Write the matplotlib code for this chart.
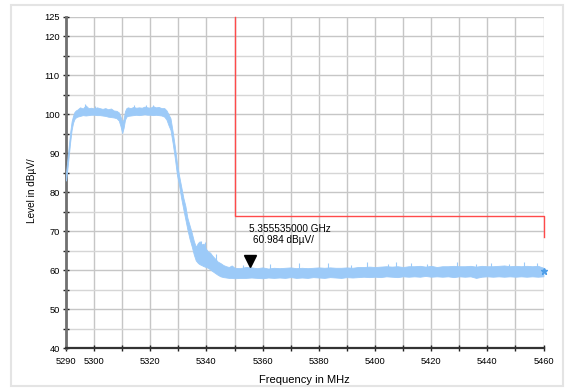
import numpy as np
import matplotlib.pyplot as plt
from matplotlib.patches import Rectangle
from matplotlib.ticker import FixedLocator, FuncFormatter

plt.rcParams['font.family'] = ['Liberation Sans', 'DejaVu Sans']

# ------------------------------------------------------------
# DATA
# ------------------------------------------------------------
# trace envelope: frequency (MHz), lower and upper edge of the noisy band (dBuV)
freq_mhz = [5290.0, 5290.5, 5291.0, 5291.5, 5292.0, 5292.5, 5293.0, 5293.5,
            5294, 5295, 5296, 5297, 5298, 5299, 5300, 5301, 5302, 5303, 5304,
            5305, 5306, 5307, 5308, 5308.8, 5309.4, 5310.0, 5310.5, 5311.0,
            5311.5, 5312, 5313, 5314, 5315, 5316, 5317, 5318, 5319, 5320,
            5321, 5322, 5323, 5324, 5325, 5325.8, 5326.5, 5327.2, 5328.0,
            5328.8, 5329.5, 5330.2, 5331.0, 5331.8, 5332.5, 5333.2, 5334.0,
            5334.8, 5335.5, 5336.2, 5337.0, 5337.6, 5338.2, 5339.0, 5339.8,
            5340.5, 5341.3, 5342.0, 5343.0, 5344.0, 5345, 5346, 5347, 5348,
            5349, 5350, 5352, 5354, 5356, 5358, 5360, 5362, 5364, 5366, 5368,
            5370, 5372, 5374, 5376, 5378, 5380, 5382, 5384, 5386, 5388, 5390,
            5392, 5394, 5396, 5398, 5400, 5402, 5404, 5406, 5408, 5410, 5412,
            5414, 5416, 5418, 5420, 5422, 5424, 5426, 5428, 5430, 5432, 5434,
            5436, 5438, 5440, 5442, 5444, 5446, 5448, 5450, 5452, 5454, 5456,
            5458, 5460]
level_lo = [83.0, 86.0, 89.5, 93.0, 96.0, 97.8, 98.8, 99.2,
            99.4, 99.6, 99.8, 99.7, 99.8, 99.9, 99.9, 99.8, 99.8, 99.7, 99.6,
            99.4, 99.3, 99.2, 99.0, 98.4, 97.0, 95.2, 96.5, 98.6,
            99.4, 99.6, 99.7, 99.8, 99.9, 99.8, 99.9, 100.0, 99.9, 99.9,
            99.8, 99.9, 99.8, 99.7, 99.4, 98.6, 97.2, 96.0, 92.5,
            88.5, 84.5, 82.0, 78.5, 75.5, 73.0, 70.5, 68.0,
            66.0, 64.0, 62.5, 61.8, 61.5, 61.3, 61.0, 60.8,
            60.6, 60.2, 59.8, 59.3, 58.8, 58.4, 58.2, 58.1, 58.0,
            58.0, 57.9, 58.0, 58.0, 58.1, 58.0, 57.9, 58.1, 58.0, 58.1, 58.0,
            58.2, 58.0, 58.1, 58.0, 58.2, 58.1, 58.0, 58.2, 58.1, 58.0, 58.2,
            58.1, 58.2, 58.3, 58.2, 58.3, 58.2, 58.4, 58.3, 58.2, 58.4, 58.3,
            58.4, 58.3, 58.5, 58.3, 58.4, 58.3, 58.4, 58.2, 58.4, 58.3, 58.4,
            58.0, 58.3, 58.4, 58.3, 58.4, 58.3, 58.4, 58.3, 58.4, 58.3, 58.4,
            58.3, 58.4]
level_hi = [85.0, 88.5, 92.0, 95.5, 98.2, 99.6, 100.6, 101.0,
            101.2, 101.8, 101.5, 102.3, 101.6, 101.7, 101.5, 101.8, 101.6, 101.4, 101.6,
            101.3, 101.5, 101.0, 100.9, 100.5, 99.5, 98.0, 98.8, 100.8,
            101.6, 101.8, 101.6, 101.9, 101.7, 101.8, 101.7, 102.0, 101.8, 101.7,
            102.1, 101.8, 101.9, 101.6, 101.6, 101.0, 100.0, 99.0, 95.5,
            91.5, 87.5, 84.5, 81.5, 78.5, 76.5, 73.5, 71.5,
            69.5, 67.5, 66.0, 67.0, 67.4, 66.6, 66.8, 65.5,
            64.8, 64.5, 63.8, 63.0, 62.2, 61.8, 61.3, 61.0, 60.8,
            61.2, 60.6, 60.5, 60.8, 60.7, 60.5, 60.7, 60.4, 60.6, 60.5, 60.6,
            60.7, 60.5, 60.6, 60.5, 60.6, 60.7, 60.6, 60.7, 60.6, 60.6, 60.7,
            60.6, 60.8, 60.8, 60.9, 60.8, 60.9, 61.0, 60.9, 61.0, 60.8, 61.0,
            61.0, 61.1, 60.9, 61.1, 60.8, 61.0, 61.0, 61.1, 61.0, 61.0, 61.1,
            60.9, 61.1, 61.0, 61.0, 61.1, 61.2, 61.0, 61.1, 61.0, 61.1, 61.0,
            61.1, 60.6]

# narrow noise spikes sticking out of the band
spike_freq = [5296.8, 5300.5, 5314.2, 5318.4, 5321.0, 5338.0, 5339.4, 5343.5,
              5353.0, 5362.6, 5372.8, 5383.2, 5391.5, 5397.2, 5404.6, 5407.4,
              5413.0, 5418.6, 5429.2, 5436.0, 5441.4, 5447.8, 5453.0, 5457.6]
spike_top = [102.6, 102.2, 102.3, 102.4, 102.5, 67.4, 67.2, 64.2,
             61.4, 61.6, 61.7, 61.8, 61.4, 62.0, 61.6, 62.1,
             61.7, 61.5, 62.0, 61.6, 61.8, 61.5, 62.0, 61.9]

# limit line
limit_freq = [5350, 5350, 5460, 5460]
limit_level = [125, 74, 74, 68.4]

# marker
marker_freq = 5355.535
marker_level = 60.984
end_marker_level = 59.8

# ------------------------------------------------------------
# FIGURE
# ------------------------------------------------------------
fig = plt.figure(figsize=(5.66, 3.9), dpi=100)
fig.patches.append(Rectangle((11 / 566, 1 - 386 / 390), 552 / 566, 381 / 390,
                             transform=fig.transFigure, fill=False,
                             edgecolor='#e4e4e4', lw=1.5))
ax = fig.add_axes([66 / 566, 1 - 348 / 390, 477.5 / 566, 331 / 390])

trace_c = '#9ccaf8'
ax.fill_between(freq_mhz, level_lo, level_hi, color=trace_c, lw=0.6,
                edgecolor=trace_c, zorder=3)
ax.vlines(spike_freq, [s - 2.0 for s in spike_top], spike_top, color=trace_c,
          lw=0.8, zorder=3)

ax.plot(limit_freq, limit_level, color='#ff4a4a', lw=1.0, zorder=4, clip_on=False)

ax.plot(marker_freq, marker_level + 1.3, marker='v', color='black', ms=8.5,
        zorder=5, ls='none')
ax.plot(5460, end_marker_level, marker='*', color='#4f9ee8', ms=4.5, zorder=5,
        clip_on=False, ls='none')
ax.text(5355.2, 70.6, '5.355535000 GHz', fontsize=7.2, ha='left', va='center')
ax.text(5356.5, 67.7, '60.984 dBµV/', fontsize=7.2, ha='left', va='center')

ax.set_xlim(5290, 5460)
ax.set_ylim(40, 125)

x_ticks = list(range(5290, 5461, 10))
x_labels = [5290] + list(range(5300, 5461, 20))
ax.xaxis.set_major_locator(FixedLocator(x_ticks))
ax.xaxis.set_major_formatter(FuncFormatter(
    lambda v, p: str(int(round(v))) if int(round(v)) in x_labels else ''))
ax.yaxis.set_major_locator(FixedLocator(list(range(40, 121, 10)) + [125]))
ax.yaxis.set_minor_locator(FixedLocator(list(range(45, 120, 10))))

ax.tick_params(axis='both', which='both', direction='inout', length=5,
               width=1.0, color='#222222', labelsize=6.7, pad=2)
ax.tick_params(axis='x', pad=4)

ax.grid(True, which='major', color='#c6c6c6', lw=1.0, zorder=0)
ax.grid(True, which='minor', axis='y', color='#d6d6d6', lw=1.0, zorder=0)
ax.set_axisbelow(True)

for s in ['top', 'right']:
    ax.spines[s].set_visible(False)
ax.spines['left'].set_color('#707070')
ax.spines['left'].set_linewidth(2.0)
ax.spines['bottom'].set_color('#333333')
ax.spines['bottom'].set_linewidth(1.6)

fig.text(304 / 566, 1 - 380 / 390, 'Frequency in MHz', fontsize=8.0,
         ha='center', va='center')
fig.text(32 / 566, 1 - 190.8 / 390, 'Level in dBµV/', fontsize=7.2,
         ha='center', va='center', rotation=90)

fig.savefig('out.png', dpi=100)
